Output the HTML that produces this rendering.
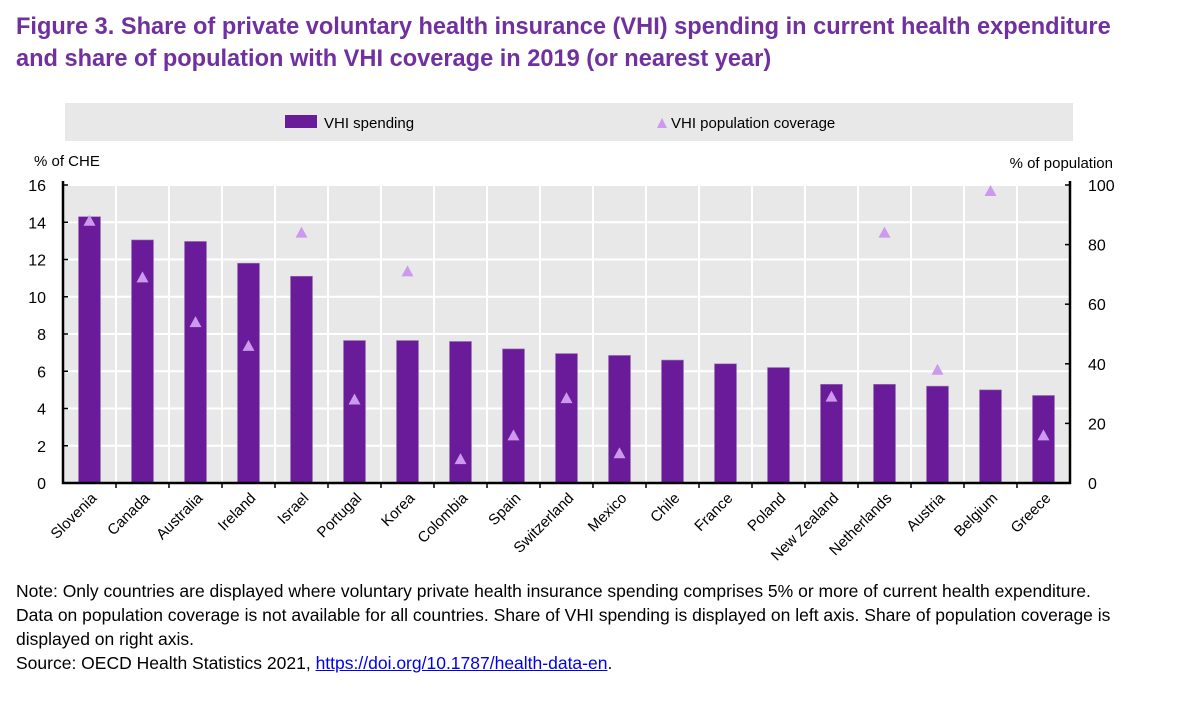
<!DOCTYPE html>
<html><head><meta charset="utf-8"><style>
body{margin:0;background:#fff;width:1177px;height:701px;overflow:hidden;font-family:"Liberation Sans",Arial,sans-serif;}
.title{position:absolute;left:16px;top:11px;font-size:23.6px;font-weight:bold;color:#7030a0;line-height:32px;}
.note{position:absolute;left:16px;top:579px;font-size:17.5px;color:#000;line-height:24px;}
.note a{color:#0000ee;}
</style></head><body>
<div class="title">Figure 3. Share of private voluntary health insurance (VHI) spending in current health expenditure<br>and share of population with VHI coverage in 2019 (or nearest year)</div>
<svg id="chart" width="1177" height="580" style="position:absolute;left:0;top:0" font-family="Liberation Sans, Arial, sans-serif"></svg>
<div class="note">Note: Only countries are displayed where voluntary private health insurance spending comprises 5% or more of current health expenditure.<br>Data on population coverage is not available for all countries. Share of VHI spending is displayed on left axis. Share of population coverage is<br>displayed on right axis.<br>Source: OECD Health Statistics 2021, <a href="#">https://doi.org/10.1787/health-data-en</a>.</div>
<script>
const categories=["Slovenia","Canada","Australia","Ireland","Israel","Portugal","Korea","Colombia","Spain","Switzerland","Mexico","Chile","France","Poland","New Zealand","Netherlands","Austria","Belgium","Greece"];
const spending=[14.3,13.05,12.97,11.8,11.1,7.65,7.65,7.6,7.2,6.95,6.85,6.6,6.4,6.2,5.3,5.3,5.2,5.0,4.7];
const coverage=[88,69,54,46,84,28,71,8,16,28.5,10,null,null,null,29,84,38,98,16];
const leftTicks=[0,2,4,6,8,10,12,14,16];
const rightTicks=[0,20,40,60,80,100];
const NS="http://www.w3.org/2000/svg";
const svg=document.getElementById('chart');
const X0=63,X1=1070,Y0=483,Y1=185;
const bw=(X1-X0)/categories.length;
const yL=v=>Y0-(v/16)*(Y0-Y1);
const yR=v=>Y0-(v/100)*(Y0-Y1);
const xC=i=>X0+bw*(i+0.5);
function el(t,a,txt){const e=document.createElementNS(NS,t);for(const k in a)e.setAttribute(k,a[k]);if(txt!=null)e.textContent=txt;svg.appendChild(e);return e;}
let e=el('rect',{x:65,y:103,width:1008,height:38,fill:'#e8e8e8'});


e=el('rect',{x:285,y:115,width:32,height:13,fill:'#691b99'});


e=el('text',{x:324,y:128,'font-size':15},'VHI spending');


e=el('polygon',{points:'657,128 667,128 662,118',fill:'#cc99ee'});


e=el('text',{x:671,y:128,'font-size':15},'VHI population coverage');


e=el('rect',{x:X0,y:Y1,width:X1-X0,height:Y0-Y1,fill:'#e8e8e8'});


leftTicks.forEach(t=>{if(t>0){const g=el('line',{x1:X0,x2:X1,y1:yL(t),y2:yL(t),stroke:'#fff','stroke-width':2});}
 const l=el('text',{x:46,y:yL(t)+6,'font-size':16,'text-anchor':'end'},t);
 
 });
for(let i=1;i<categories.length;i++){const g=el('line',{x1:X0+bw*i,x2:X0+bw*i,y1:Y1,y2:Y0,stroke:'#fff','stroke-width':2});
 const tk=el('line',{x1:X0+bw*i,x2:X0+bw*i,y1:Y0,y2:Y0+5,stroke:'#000','stroke-width':1.5});}
rightTicks.forEach(t=>{const l=el('text',{x:1088,y:yR(t)+6,'font-size':16},t);
 
 });
categories.forEach((c,i)=>{
 const b=el('rect',{x:xC(i)-11,y:yL(spending[i]),width:22,height:Y0-yL(spending[i]),fill:'#691b99',stroke:'#9a7fb5','stroke-width':0.6});
 
 
 if(coverage[i]!=null){const y=yR(coverage[i]);
  const m=el('polygon',{points:`${xC(i)-6},${y+5} ${xC(i)+6},${y+5} ${xC(i)},${y-6}`,fill:'#cc99ee'});
  
  }
 const t=el('text',{x:xC(i)+8,y:Y0+16,'font-size':15,'text-anchor':'end',transform:`rotate(-45 ${xC(i)+8} ${Y0+16})`},c);
 
 
});
e=el('polyline',{points:`${X0},${Y1-4} ${X0},${Y0} ${X1},${Y0} ${X1},${Y1-4}`,fill:'none',stroke:'#000','stroke-width':2.5});


leftTicks.forEach(t=>{const k=el('line',{x1:X0,x2:X0+5,y1:yL(t),y2:yL(t),stroke:'#000','stroke-width':1.5});});
rightTicks.forEach(t=>{const k=el('line',{x1:X1-5,x2:X1,y1:yR(t),y2:yR(t),stroke:'#000','stroke-width':1.5});});
e=el('text',{x:34,y:166,'font-size':15},'% of CHE');


e=el('text',{x:1113,y:168,'font-size':15,'text-anchor':'end'},'% of population');


</script>
</body></html>
